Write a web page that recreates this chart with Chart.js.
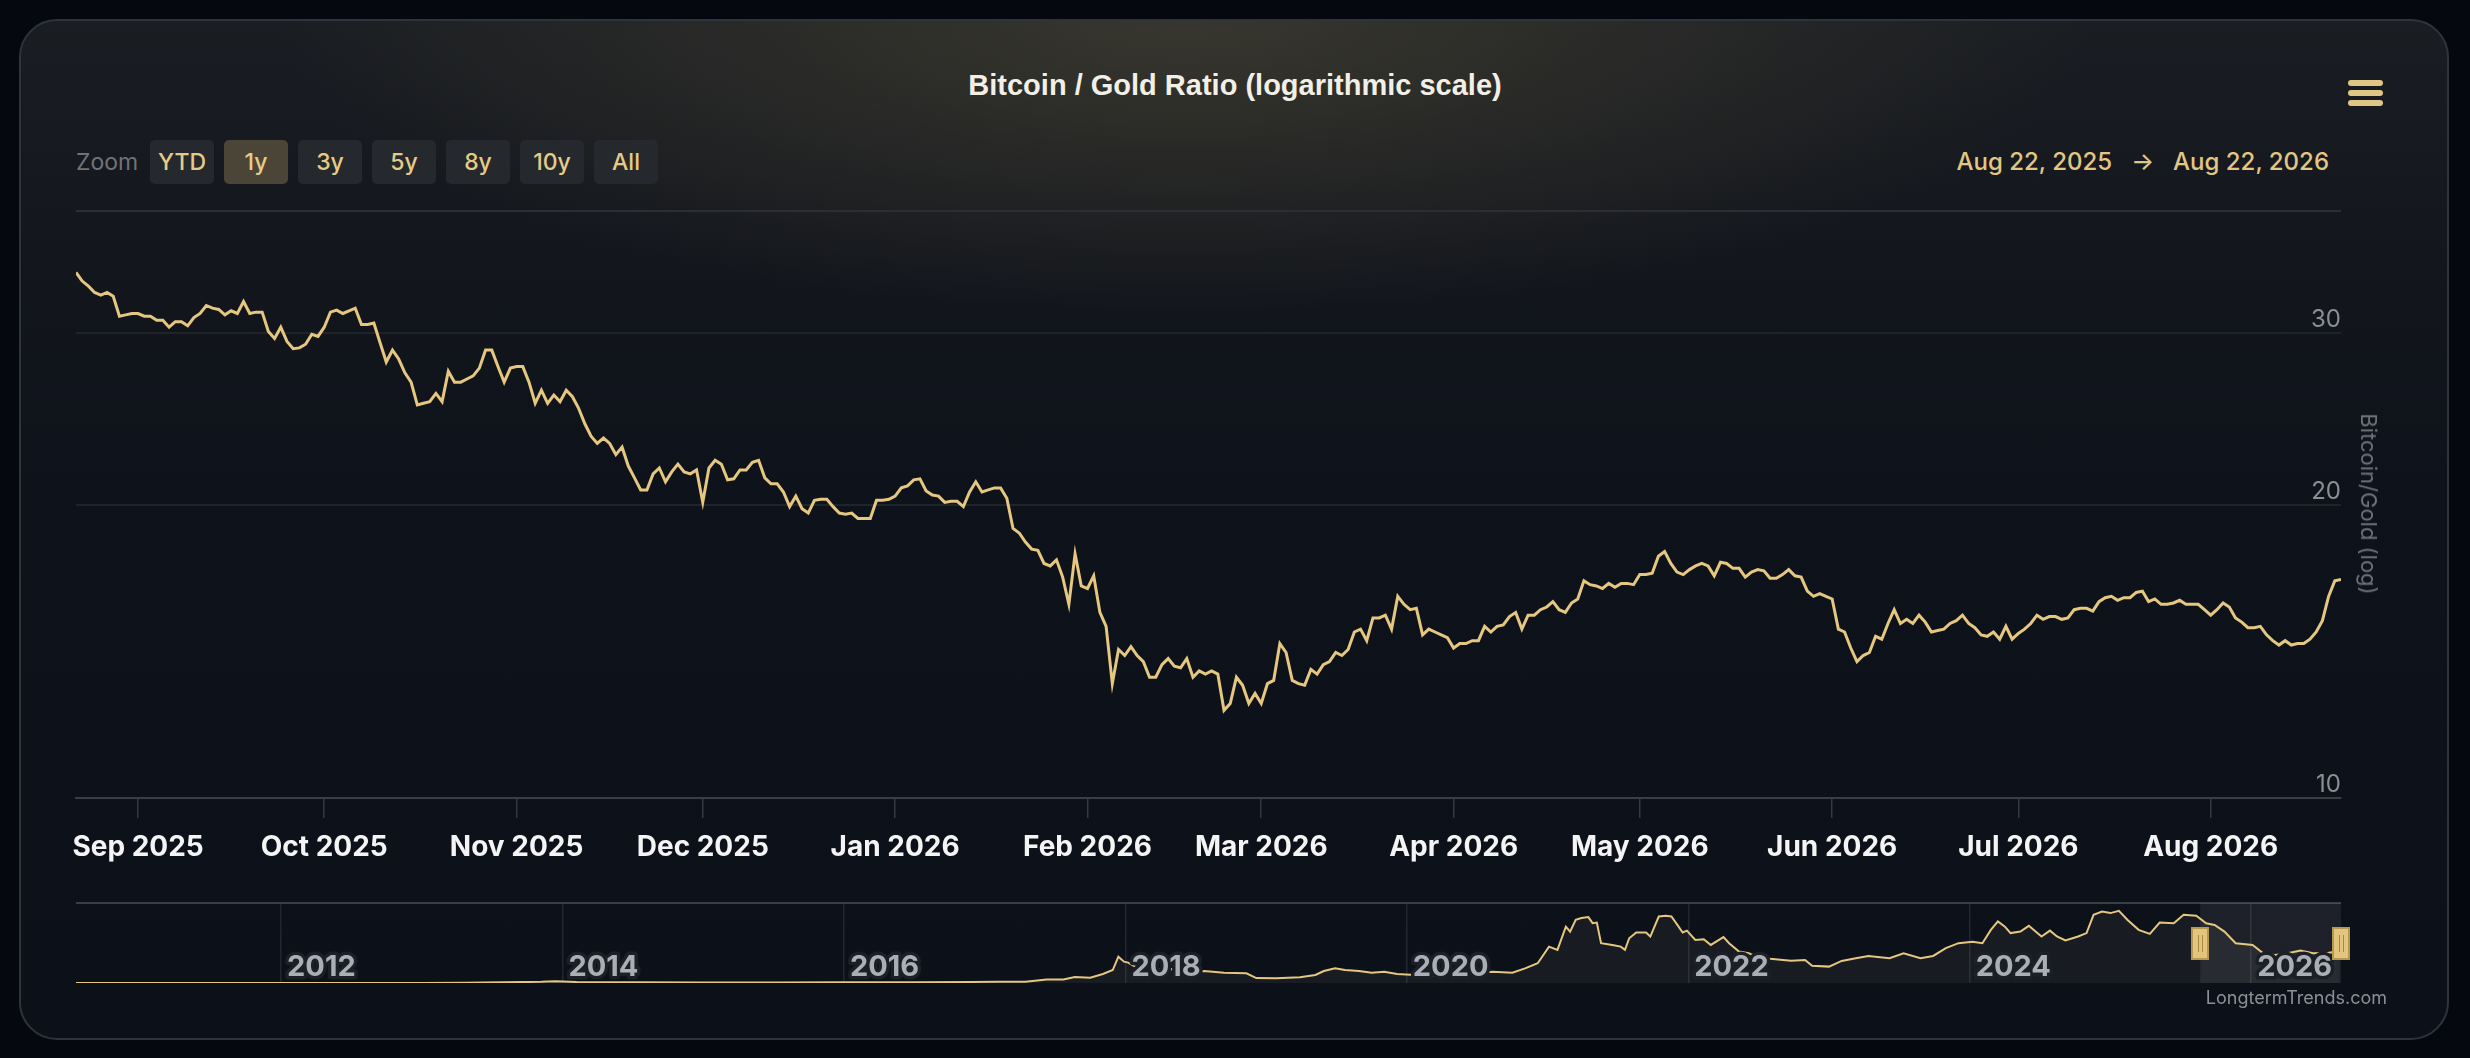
<!DOCTYPE html>
<html>
<head>
<meta charset="utf-8">
<title>Bitcoin / Gold Ratio</title>
<script src="https://cdn.jsdelivr.net/npm/chart.js@4.4.1/dist/chart.umd.min.js"></script>
<style>
  html, body { margin: 0; padding: 0; }
  body {
    width: 2470px; height: 1058px; overflow: hidden; position: relative;
    background: #05080f;
    font-family: Inter, "Noto Sans", sans-serif;
  }
  .card {
    position: absolute; left: 19px; top: 19px; width: 2430px; height: 1021px;
    box-sizing: border-box; border: 2px solid #2e333c; border-radius: 38px;
    background:
      radial-gradient(ellipse 1300px 420px at 48% 0%, rgba(66, 63, 50, 0.75), rgba(66, 63, 50, 0) 70%),
      linear-gradient(180deg, #1a1d22 0%, #14171d 20%, #0e121a 45%, #0c1018 100%);
  }
  .title {
    position: absolute; left: 0; top: 70px; width: 2470px; text-align: center;
    font: bold 29px "Liberation Sans", Arial, sans-serif; line-height: 30px; color: #f2efe6;
  }
  .menu { position: absolute; left: 2348px; top: 80px; width: 35px; }
  .menu span { display: block; height: 6px; border-radius: 3px; background: #e0c684; margin-bottom: 4px; }
  .zoom { position: absolute; left: 76px; top: 140px; height: 44px; display: flex; gap: 10px; }
  .zoom .lbl { width: 64px; line-height: 44px; font-size: 23px; color: #70737a; }
  .zoom .btn {
    width: 64px; height: 44px; line-height: 44px; text-align: center; border-radius: 5px;
    background: #25282c; color: #e6cb86; font-size: 23px; font-weight: 500;
  }
  .zoom .btn.on { background: #4a4536; }
  .range {
    position: absolute; right: 141px; top: 140px; line-height: 44px;
    font-size: 24px; font-weight: 500; color: #e2c684;
  }
  .range .arrow { margin: 0 19px; }
  canvas { position: absolute; left: 0; }
  #mainChart { top: 0; }
  #navChart { top: 890px; }
  .ytitle {
    position: absolute; left: 2369px; top: 504px; white-space: nowrap;
    transform: translate(-50%, -50%) rotate(90deg);
    font-size: 22px; color: #6e7179;
  }
  .credit {
    position: absolute; right: 83px; top: 986px; line-height: 24px;
    font-size: 18px; color: #8c8f96;
  }
</style>
</head>
<body>
<div class="card"></div>
<div class="title">Bitcoin / Gold Ratio (logarithmic scale)</div>
<div class="menu"><span></span><span></span><span></span></div>
<div class="zoom">
  <div class="lbl">Zoom</div>
  <div class="btn">YTD</div>
  <div class="btn on">1y</div>
  <div class="btn">3y</div>
  <div class="btn">5y</div>
  <div class="btn">8y</div>
  <div class="btn">10y</div>
  <div class="btn">All</div>
</div>
<div class="range">Aug 22, 2025<span class="arrow">→</span>Aug 22, 2026</div>
<canvas id="mainChart" width="2470" height="880"></canvas>
<canvas id="navChart" width="2470" height="110"></canvas>
<div class="ytitle">Bitcoin/Gold (log)</div>
<div class="credit">LongtermTrends.com</div>

<script>
// main chart: one value per day from startDate
const startDate = "2025-08-22";
const endDate = "2026-08-22";

const monthStarts = [
  "2025-09-01", "2025-10-01", "2025-11-01", "2025-12-01", "2026-01-01", "2026-02-01",
  "2026-03-01", "2026-04-01", "2026-05-01", "2026-06-01", "2026-07-01", "2026-08-01",
];
const monthLabels = [
  "Sep 2025", "Oct 2025", "Nov 2025", "Dec 2025", "Jan 2026", "Feb 2026",
  "Mar 2026", "Apr 2026", "May 2026", "Jun 2026", "Jul 2026", "Aug 2026",
];

const yTickValues = [10, 20, 30, 40];
const yTickLabels = ["10", "20", "30", ""];

const ratioValues = [
  // Aug 22 - Nov 22 2025
  34.6, 33.9, 33.5, 33.0, 32.8, 33.0, 32.7, 31.2, 31.3, 31.4,
  31.4, 31.2, 31.2, 30.9, 30.9, 30.4, 30.8, 30.8, 30.5, 31.1,
  31.4, 32.0, 31.8, 31.7, 31.3, 31.6, 31.4, 32.3, 31.4, 31.5,
  31.5, 30.1, 29.6, 30.4, 29.4, 28.9, 28.95, 29.2, 29.9, 29.75,
  30.4, 31.5, 31.65, 31.4, 31.6, 31.8, 30.6, 30.6, 30.7, 29.3,
  28.0, 28.8, 28.2, 27.3, 26.7, 25.3, 25.4, 25.5, 26.0, 25.5,
  27.4, 26.7, 26.7, 26.9, 27.1, 27.6, 28.8, 28.8, 27.7, 26.7,
  27.6, 27.7, 27.7, 26.7, 25.4, 26.2, 25.4, 25.9, 25.5, 26.2,
  25.8, 25.1, 24.2, 23.5, 23.1, 23.4, 23.1, 22.5, 22.9, 21.9,
  21.3, 20.7, 20.7,
  // Nov 23 2025 - Feb 22 2026
  21.5, 21.8, 21.1, 21.6, 22.0, 21.6, 21.5, 21.7, 20.1, 21.8,
  22.2, 22.0, 21.2, 21.25, 21.7, 21.7, 22.1, 22.2, 21.3, 21.0,
  21.0, 20.6, 19.9, 20.4, 19.8, 19.6, 20.2, 20.25, 20.25, 19.9,
  19.6, 19.55, 19.6, 19.35, 19.35, 19.35, 20.2, 20.2, 20.25, 20.4,
  20.8, 20.9, 21.2, 21.25, 20.65, 20.45, 20.4, 20.1, 20.15, 20.15,
  19.9, 20.6, 21.1, 20.6, 20.7, 20.8, 20.8, 20.3, 18.9, 18.7,
  18.3, 18.0, 17.95, 17.4, 17.3, 17.55, 16.85, 15.8, 17.8, 16.5,
  16.4, 16.9, 15.5, 15.0, 13.1, 14.2, 14.0, 14.3, 14.0, 13.8,
  13.3, 13.3, 13.7, 13.9, 13.65, 13.6, 13.9, 13.3, 13.5, 13.4,
  13.5, 13.4,
  // Feb 23 - May 24 2026
  12.3, 12.5, 13.3, 13.05, 12.5, 12.8, 12.5, 13.1, 13.2, 14.4,
  14.1, 13.2, 13.1, 13.05, 13.55, 13.4, 13.7, 13.8, 14.1, 14.0,
  14.2, 14.8, 14.9, 14.5, 15.3, 15.3, 15.4, 14.9, 16.1, 15.8,
  15.6, 15.65, 14.7, 14.9, 14.8, 14.7, 14.6, 14.25, 14.4, 14.4,
  14.5, 14.5, 15.0, 14.8, 15.0, 15.05, 15.35, 15.5, 14.9, 15.4,
  15.4, 15.6, 15.7, 15.9, 15.6, 15.5, 15.85, 16.0, 16.7, 16.55,
  16.5, 16.4, 16.6, 16.45, 16.6, 16.6, 16.55, 16.95, 16.95, 17.0,
  17.7, 17.9, 17.4, 17.05, 16.95, 17.15, 17.3, 17.4, 17.3, 16.9,
  17.45, 17.4, 17.2, 17.2, 16.85, 17.05, 17.15, 17.1, 16.8, 16.8,
  16.95, 17.15,
  // May 25 - Aug 22 2026
  16.9, 16.85, 16.3, 16.1, 16.2, 16.1, 16.0, 14.9, 14.8, 14.25,
  13.8, 14.0, 14.1, 14.65, 14.55, 15.1, 15.6, 15.1, 15.25, 15.1,
  15.4, 15.15, 14.8, 14.85, 14.9, 15.1, 15.2, 15.4, 15.1, 14.95,
  14.7, 14.65, 14.8, 14.55, 15.0, 14.55, 14.75, 14.9, 15.1, 15.4,
  15.25, 15.35, 15.35, 15.25, 15.3, 15.6, 15.65, 15.65, 15.55, 15.9,
  16.05, 16.1, 15.95, 16.05, 16.05, 16.25, 16.3, 15.9, 16.0, 15.8,
  15.8, 15.85, 15.95, 15.8, 15.8, 15.8, 15.6, 15.4, 15.6, 15.85,
  15.7, 15.3, 15.15, 14.95, 14.95, 15.0, 14.7, 14.5, 14.35, 14.5,
  14.35, 14.4, 14.4, 14.55, 14.8, 15.2, 16.1, 16.7, 16.75,
];

// navigator: whole history, x in fractional years
const navStart = "2010-07-18";
const navYears = [
  2010.54, 2010.9, 2011.45, 2011.9, 2012.5, 2013.0, 2013.3, 2013.85, 2013.95, 2014.1,
  2014.5, 2015.0, 2015.5, 2016.0, 2016.5, 2016.9, 2017.1, 2017.29, 2017.44, 2017.56,
  2017.64, 2017.75, 2017.84, 2017.91, 2017.95, 2017.99, 2018.02, 2018.09, 2018.16, 2018.33,
  2018.46, 2018.56, 2018.70, 2018.86, 2018.93, 2019.07, 2019.24, 2019.35, 2019.41, 2019.49,
  2019.56, 2019.66, 2019.75, 2019.84, 2019.93, 2020.06, 2020.15, 2020.36, 2020.52, 2020.61,
  2020.75, 2020.84, 2020.93, 2021.01, 2021.07, 2021.13, 2021.16, 2021.20, 2021.24, 2021.29,
  2021.32, 2021.35, 2021.38, 2021.46, 2021.52, 2021.55, 2021.58, 2021.63, 2021.70, 2021.73,
  2021.79, 2021.84, 2021.88, 2021.92, 2021.96, 2021.99, 2022.05, 2022.11, 2022.16, 2022.25,
  2022.29, 2022.36, 2022.43, 2022.51, 2022.60, 2022.73, 2022.83, 2022.88, 2023.00, 2023.09,
  2023.19, 2023.28, 2023.43, 2023.53, 2023.65, 2023.74, 2023.83, 2023.92, 2024.02, 2024.09,
  2024.15, 2024.20, 2024.25, 2024.29, 2024.36, 2024.42, 2024.51, 2024.57, 2024.62, 2024.68,
  2024.77, 2024.83, 2024.88, 2024.94, 2025.00, 2025.06, 2025.12, 2025.20, 2025.28, 2025.35,
  2025.45, 2025.52, 2025.61, 2025.68, 2025.74, 2025.81, 2025.89, 2026.01, 2026.09, 2026.17,
  2026.26, 2026.35, 2026.44, 2026.55, 2026.63,
];
const navValues = [
  0.0, 0.0, 0.02, 0.0, 0.0, 0.01, 0.1, 0.6, 0.9, 0.5,
  0.45, 0.25, 0.2, 0.35, 0.45, 0.55, 0.6, 0.7, 1.9, 1.9,
  3.2, 2.8, 4.7, 6.8, 13.8, 11.2, 10.7, 7.7, 6.8, 7.4,
  5.4, 6.3, 5.4, 5.1, 2.6, 2.5, 3.0, 4.2, 6.3, 7.7,
  6.8, 6.3, 5.4, 5.9, 4.7, 4.2, 3.7, 4.7, 5.4, 5.9,
  5.4, 7.7, 10.4, 19.1, 17.4, 29.6, 27.0, 33.2, 34.1, 34.6,
  31.4, 31.7, 20.9, 20.0, 19.1, 17.4, 23.5, 26.5, 26.5, 24.4,
  34.9, 35.3, 34.9, 30.8, 26.5, 27.5, 22.6, 23.0, 20.0, 24.1,
  20.9, 16.5, 15.6, 13.0, 12.6, 11.7, 12.1, 9.1, 8.6, 11.6,
  13.0, 14.2, 13.0, 15.6, 13.0, 14.2, 18.3, 20.9, 21.7, 20.9,
  27.9, 32.3, 29.6, 26.2, 27.0, 30.0, 24.4, 27.5, 24.4, 22.3,
  24.4, 26.2, 35.8, 37.5, 36.7, 37.9, 33.2, 27.9, 25.8, 31.7,
  31.4, 35.8, 35.3, 31.4, 30.5, 27.0, 20.9, 20.0, 15.3, 14.7,
  15.6, 17.0, 15.6, 15.9, 16.7,
];
const navYearTicks = [2012, 2014, 2016, 2018, 2020, 2022, 2024, 2026];

const dayMs = 86400000;
function dayOf(iso) {
  return Math.round((Date.parse(iso) - Date.parse(startDate)) / dayMs);
}
function yearOf(iso) {
  const t = Date.parse(iso);
  const y = new Date(t).getUTCFullYear();
  const a = Date.UTC(y, 0, 1), b = Date.UTC(y + 1, 0, 1);
  return y + (t - a) / (b - a);
}

const gold = "#e5c77f";

const mainChart = new Chart(document.getElementById("mainChart").getContext("2d"), {
  type: "line",
  data: {
    datasets: [{
      label: "Bitcoin/Gold",
      data: ratioValues.map((v, i) => ({ x: i, y: v })),
      borderColor: gold,
      borderWidth: 3,
      pointRadius: 0,
      tension: 0,
      fill: false,
    }],
  },
  options: {
    responsive: false,
    animation: false,
    events: [],
    layout: { padding: { left: 76, right: 129, top: 211, bottom: 0 } },
    plugins: { legend: { display: false }, tooltip: { enabled: false } },
    scales: {
      x: {
        type: "linear",
        min: 0,
        max: dayOf(endDate),
        afterBuildTicks: (scale) => { scale.ticks = monthStarts.map((d) => ({ value: dayOf(d) })); },
        afterFit: (scale) => { scale.height = 82; },
        ticks: {
          autoSkip: false,
          maxRotation: 0,
          padding: 13,
          color: "#f4f4f4",
          font: { family: "Inter", size: 28, weight: "bold" },
          callback: (v, i) => monthLabels[i],
        },
        grid: { drawOnChartArea: false, drawTicks: true, tickLength: 20, color: "#353840", lineWidth: 1.5 },
        border: { display: true, color: "#3b3e45", width: 2 },
      },
      y: {
        type: "logarithmic",
        position: "right",
        min: 10,
        max: 40,
        afterBuildTicks: (scale) => { scale.ticks = yTickValues.map((v) => ({ value: v })); },
        afterFit: (scale) => { scale.width = 0; },
        ticks: {
          mirror: true,
          padding: 0,
          labelOffset: -13,
          color: "#8b8e95",
          font: { family: "Inter", size: 24 },
          callback: (v, i) => yTickLabels[i],
        },
        grid: {
          drawTicks: false,
          lineWidth: 2,
          color: (c) => (c.tick.value === 10 ? "#3b3e45" : c.tick.value === 40 ? "#2b2e35" : "#1f232a"),
        },
        border: { display: false },
      },
    },
  },
});

// shaded selection, year labels and the two handles of the navigator
const navRangePlugin = {
  id: "navRange",
  beforeDatasetsDraw(chart) {
    const { ctx, chartArea, scales } = chart;
    const x1 = scales.x.getPixelForValue(yearOf(startDate));
    const x2 = scales.x.getPixelForValue(yearOf(endDate));
    ctx.save();
    ctx.fillStyle = "rgba(255, 255, 255, 0.07)";
    ctx.fillRect(x1, chartArea.top, x2 - x1, chartArea.bottom - chartArea.top);
    ctx.restore();
  },
  afterDraw(chart) {
    const { ctx, chartArea, scales } = chart;

    ctx.save();
    ctx.font = "bold 29px Inter";
    ctx.textAlign = "left";
    ctx.textBaseline = "middle";
    ctx.lineJoin = "round";
    ctx.lineWidth = 7;
    ctx.strokeStyle = "#1b1f27";
    ctx.fillStyle = "#abaeb5";
    navYearTicks.forEach((yr) => {
      const x = scales.x.getPixelForValue(yr) + 6;
      const y = chartArea.bottom - 16;
      ctx.strokeText(String(yr), x, y);
      ctx.fillText(String(yr), x, y);
    });
    ctx.restore();

    const top = chartArea.top + 25;
    [startDate, endDate].forEach((d) => {
      const x = Math.round(scales.x.getPixelForValue(yearOf(d)));
      ctx.save();
      ctx.fillStyle = "#e2c57f";
      ctx.strokeStyle = "#b8984f";
      ctx.lineWidth = 2;
      ctx.fillRect(x - 8, top, 16, 31);
      ctx.strokeRect(x - 8, top, 16, 31);
      ctx.strokeStyle = "#a8893f";
      ctx.lineWidth = 1;
      ctx.beginPath();
      ctx.moveTo(x - 1.5, top + 7); ctx.lineTo(x - 1.5, top + 24);
      ctx.moveTo(x + 2.5, top + 7); ctx.lineTo(x + 2.5, top + 24);
      ctx.stroke();
      ctx.restore();
    });
  },
};

const navChart = new Chart(document.getElementById("navChart").getContext("2d"), {
  type: "line",
  data: {
    datasets: [{
      label: "History",
      data: navYears.map((yr, i) => ({ x: yr, y: navValues[i] })),
      borderColor: gold,
      borderWidth: 2,
      pointRadius: 0,
      tension: 0,
      fill: "origin",
      backgroundColor: "rgba(255, 248, 230, 0.05)",
    }],
  },
  options: {
    responsive: false,
    animation: false,
    events: [],
    layout: { padding: { left: 76, right: 129, top: 13, bottom: 17 } },
    plugins: { legend: { display: false }, tooltip: { enabled: false } },
    scales: {
      x: {
        type: "linear",
        min: yearOf(navStart),
        max: yearOf(endDate),
        afterBuildTicks: (scale) => { scale.ticks = navYearTicks.map((v) => ({ value: v })); },
        afterFit: (scale) => { scale.height = 0; },
        ticks: { display: false },
        grid: { drawTicks: false, color: "#22262e", lineWidth: 1.5 },
        border: { display: false },
      },
      y: {
        type: "linear",
        min: 0,
        max: 42,
        afterBuildTicks: (scale) => { scale.ticks = [{ value: 42 }]; },
        afterFit: (scale) => { scale.width = 0; },
        ticks: { display: false },
        grid: { drawTicks: false, color: "#3a3e46", lineWidth: 2 },
        border: { display: false },
      },
    },
  },
  plugins: [navRangePlugin],
});
</script>
</body>
</html>
